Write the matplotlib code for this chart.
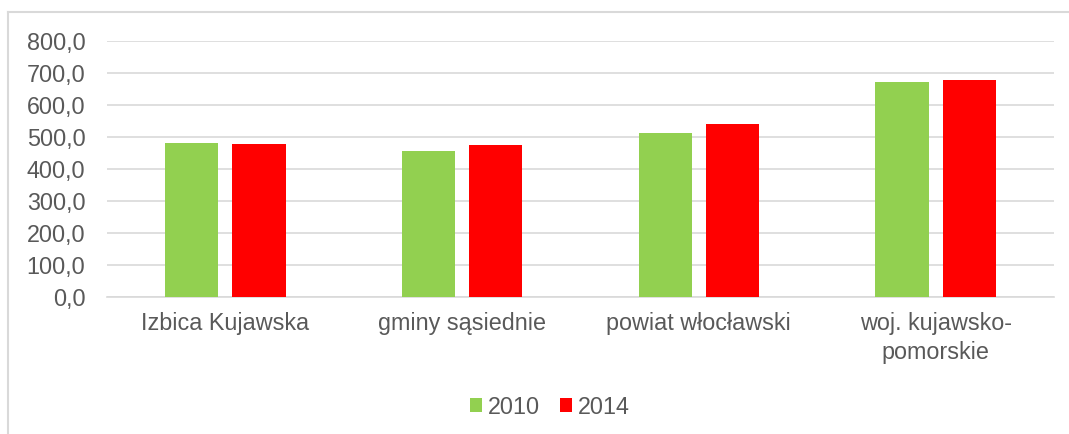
import matplotlib
matplotlib.use("Agg")
import matplotlib.pyplot as plt
from matplotlib.lines import Line2D
import numpy as np

categories = ["Izbica Kujawska", "gminy sąsiednie", "powiat włocławski", "woj. kujawsko-\npomorskie"]
series_names = ["2010", "2014"]
values_2010 = [481.0, 455.0, 514.0, 673.0]
values_2014 = [477.0, 475.0, 541.0, 679.0]
yticks = [0, 100, 200, 300, 400, 500, 600, 700, 800]

plt.rcParams['font.family'] = ['Liberation Sans', 'DejaVu Sans']
W, H = 1069, 434
FS = 16.8
fig = plt.figure(figsize=(W / 100, H / 100), dpi=100)
ax = fig.add_axes([107 / W, 1 - 297 / H, (1054 - 107) / W, (297 - 41) / H])

x = np.arange(len(categories))
bw = 0.224
off = 0.142
green = "#92d050"
red = "#ff0000"
ax.bar(x - off, values_2010, bw, color=green, label=series_names[0], zorder=3)
ax.bar(x + off, values_2014, bw, color=red, label=series_names[1], zorder=3)

ax.set_xlim(-0.5, len(categories) - 0.5)
ax.set_ylim(0, 800)
ax.set_yticks(yticks)
ax.set_yticklabels([f"{v:.1f}".replace(".", ",") for v in yticks])
ax.set_xticks(x)
ax.set_xticklabels(categories, linespacing=1.3)
ax.tick_params(axis='both', length=0, labelsize=FS, colors="#595959")
ax.tick_params(axis='y', pad=15.5)
ax.tick_params(axis='x', pad=11)
ax.grid(axis='y', color="#d9d9d9", linewidth=1.2, zorder=0)
for s in ["top", "right", "left"]:
    ax.spines[s].set_visible(False)
ax.spines["bottom"].set_color("#d9d9d9")
ax.spines["bottom"].set_linewidth(1.2)

leg = fig.legend(loc="center", bbox_to_anchor=(550 / W, 1 - 407 / H), ncol=2, frameon=False,
                 fontsize=FS, handlelength=0.52, handleheight=0.52, handletextpad=0.25,
                 columnspacing=0.85)
for t in leg.get_texts():
    t.set_color("#595959")

# outer chart border (top and left visible)
fig.add_artist(Line2D([8 / W, 1.0], [1 - 12 / H, 1 - 12 / H], color="#d9d9d9", linewidth=1.5,
                      transform=fig.transFigure))
fig.add_artist(Line2D([8 / W, 8 / W], [0, 1 - 12 / H], color="#d9d9d9", linewidth=1.5,
                      transform=fig.transFigure))

fig.savefig("out.png", dpi=100, facecolor="white")
